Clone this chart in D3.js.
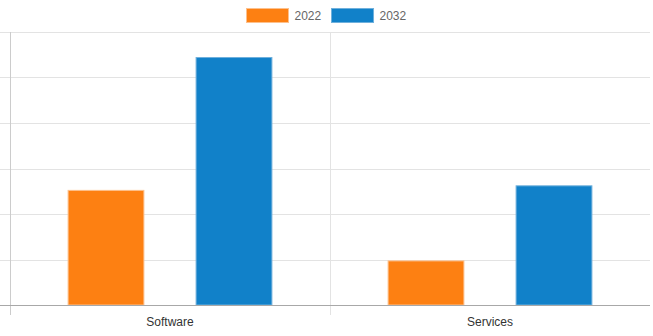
<!DOCTYPE html>
<html>
<head>
<meta charset="utf-8">
<script src="https://cdn.jsdelivr.net/npm/d3@7"></script>
<style>
  body { margin: 0; background: #fff; }
  text { font-family: "Liberation Sans", Arial, sans-serif; }
</style>
</head>
<body>
<div id="chart"></div>
<script>
// values (y axis labels are hidden in the original)
var categories = ["Software", "Services"];
var seriesNames = ["2022", "2032"];
var values2022 = [25.3, 9.8];
var values2032 = [54.5, 26.3];
var yTicks = [0, 10, 20, 30, 40, 50, 60];

var seriesColors = ["#fd8012", "#1181c9"];
var seriesBorders = ["#fdc08c", "#6fb0dc"];

var width = 653,
    height = 336,
    margin = { top: 32, right: 3, bottom: 31, left: 10 };

var svg = d3.select("#chart").append("svg")
    .attr("width", width)
    .attr("height", height);

var x = d3.scaleBand()
    .domain(categories)
    .range([margin.left, width - margin.right]);

// bars use 80% of each category, 60% of each slot
var catW = x.bandwidth();
var xInner = d3.scaleBand()
    .domain(seriesNames)
    .range([catW * 0.1, catW * 0.9])
    .padding(0.2)
    .paddingInner(0.4);

var y = d3.scaleLinear()
    .domain([0, 60])
    .range([height - margin.bottom, margin.top]);

// horizontal grid lines, with little ticks left of the axis
svg.append("g")
    .selectAll("line")
    .data(yTicks.slice(1))
    .enter().append("line")
    .attr("x1", 0)
    .attr("x2", width - margin.right)
    .attr("y1", function (d) { return Math.round(y(d)) + 0.5; })
    .attr("y2", function (d) { return Math.round(y(d)) + 0.5; })
    .attr("stroke", "#e3e3e3");

// vertical grid lines at category edges
var edges = [margin.left, margin.left + catW];
svg.append("g")
    .selectAll("line")
    .data(edges)
    .enter().append("line")
    .attr("x1", function (d) { return Math.round(d) + 0.5; })
    .attr("x2", function (d) { return Math.round(d) + 0.5; })
    .attr("y1", margin.top)
    .attr("y2", height - margin.bottom + 10)
    .attr("stroke", function (d, i) { return i === 0 ? "#cccccc" : "#e3e3e3"; });

var data = categories.map(function (c, i) {
  return { name: c, values: [values2022[i], values2032[i]] };
});

var groups = svg.selectAll(".cat")
    .data(data)
    .enter().append("g")
    .attr("class", "cat")
    .attr("transform", function (d) { return "translate(" + x(d.name) + ",0)"; });

groups.selectAll("rect")
    .data(function (d) {
      return d.values.map(function (v, i) { return { key: seriesNames[i], value: v, idx: i }; });
    })
    .enter().append("rect")
    .attr("x", function (d) { return xInner(d.key) + 0.5; })
    .attr("width", xInner.bandwidth() - 1)
    .attr("y", function (d) { return y(d.value) + 0.5; })
    .attr("height", function (d) { return y(0) - y(d.value) - 0.5; })
    .attr("fill", function (d) { return seriesColors[d.idx]; })
    .attr("stroke", function (d) { return seriesBorders[d.idx]; })
    .attr("stroke-width", 1);

// x axis line
svg.append("line")
    .attr("x1", 0)
    .attr("x2", width - margin.right)
    .attr("y1", Math.round(y(0)) + 0.5)
    .attr("y2", Math.round(y(0)) + 0.5)
    .attr("stroke", "#a8a8a8");

// category labels
svg.append("g")
    .selectAll("text")
    .data(categories)
    .enter().append("text")
    .attr("x", function (d) { return x(d) + catW / 2; })
    .attr("y", 326)
    .attr("text-anchor", "middle")
    .attr("font-size", "12px")
    .attr("fill", "#333")
    .text(function (d) { return d; });

// legend, centred at the top
var legend = svg.append("g");
var items = legend.selectAll("g")
    .data(seriesNames)
    .enter().append("g");

items.append("rect")
    .attr("y", 8.5)
    .attr("width", 42)
    .attr("height", 14)
    .attr("fill", function (d, i) { return seriesColors[i]; })
    .attr("stroke", function (d, i) { return seriesBorders[i]; });

items.append("text")
    .attr("x", 48)
    .attr("y", 20)
    .attr("font-size", "12px")
    .attr("fill", "#666")
    .text(function (d) { return d; });

var offset = 0, positions = [];
items.each(function () {
  var w = this.getBBox().width;
  positions.push(offset);
  offset += w + 10;
});
var total = offset - 10;
var startX = Math.round(width / 2 - total / 2) + 0.5;
items.attr("transform", function (d, i) { return "translate(" + (startX + positions[i]) + ",0)"; });
</script>
</body>
</html>
